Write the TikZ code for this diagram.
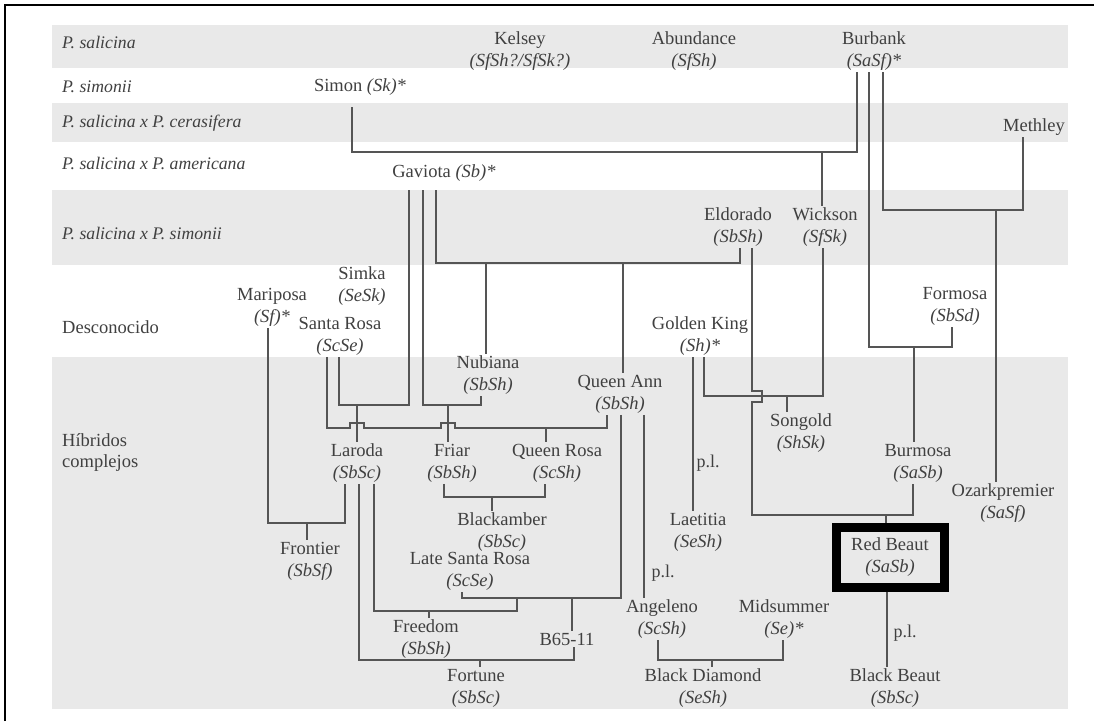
\documentclass[tikz,border=0pt]{standalone}
\usepackage{fontspec}
\setmainfont{Liberation Serif}
\definecolor{txt}{HTML}{404040}
\definecolor{lnc}{HTML}{555555}
\definecolor{band}{HTML}{E9E9E9}
\newcommand{\gen}[1]{{\itshape #1}}
\begin{document}
\begin{tikzpicture}[x=1pt,y=-1pt,
 nd/.style={align=center,inner sep=1.5pt,text=txt,font=\fontsize{18.5}{22}\selectfont},
 lab/.style={anchor=west,inner sep=0pt,text=txt,font=\fontsize{17.7}{21}\selectfont\itshape},
 labu/.style={anchor=west,inner sep=0pt,text=txt,font=\fontsize{18.5}{21}\selectfont,align=left},
 pl/.style={inner sep=0pt,text=txt,font=\fontsize{18}{20}\selectfont},
 ln/.style={draw=lnc,line width=1.6pt}]
\useasboundingbox (0,0) rectangle (1094,721);
% bands
\fill[band] (52,25) rectangle (1068,68);
\fill[band] (52,103) rectangle (1068,142);
\fill[band] (52,190) rectangle (1068,265);
\fill[band] (52,357) rectangle (1068,709);
% frame
\draw[line width=2pt] (5,721) -- (5,5) -- (1094,5);
% row labels
\node[lab] (r1) at (62,42) {P. salicina};
\node[lab] (r2) at (62,87) {P. simonii};
\node[lab] (r3) at (62,123) {P. salicina x P. cerasifera};
\node[lab] (r4) at (62,163) {P. salicina x P. americana};
\node[lab] (r5) at (62,233) {P. salicina x P. simonii};
\node[labu] (r6) at (62,327) {Desconocido};
\node[labu] (r7) at (62,453) {Híbridos\\complejos};
% cultivars
\node[nd] (kelsey) at (520,51) {Kelsey\\\gen{(SfSh?/SfSk?)}};
\node[nd] (abundance) at (694,51) {Abundance\\\gen{(SfSh)}};
\node[nd] (burbank) at (874,51) {Burbank\\\gen{(SaSf)*}};
\node[nd] (simon) at (360,87) {Simon \gen{(Sk)*}};
\node[nd] (methley) at (1034,127) {Methley};
\node[nd] (gaviota) at (444,173) {Gaviota \gen{(Sb)*}};
\node[nd] (eldorado) at (738,227) {Eldorado\\\gen{(SbSh)}};
\node[nd] (wickson) at (825,227) {Wickson\\\gen{(SfSk)}};
\node[nd] (simka) at (362,286) {Simka\\\gen{(SeSk)}};
\node[nd] (mariposa) at (272,307) {Mariposa\\\gen{(Sf)*}};
\node[nd] (santarosa) at (340,336) {Santa Rosa\\\gen{(ScSe)}};
\node[nd] (goldenking) at (700,336) {Golden King\\\gen{(Sh)*}};
\node[nd] (formosa) at (955,306) {Formosa\\\gen{(SbSd)}};
\node[nd] (nubiana) at (488,375) {Nubiana\\\gen{(SbSh)}};
\node[nd] (queenann) at (620,394) {Queen Ann\\\gen{(SbSh)}};
\node[nd] (songold) at (801,433) {Songold\\\gen{(ShSk)}};
\node[nd] (laroda) at (357,463) {Laroda\\\gen{(SbSc)}};
\node[nd] (friar) at (452,463) {Friar\\\gen{(SbSh)}};
\node[nd] (queenrosa) at (557,463) {Queen Rosa\\\gen{(ScSh)}};
\node[nd] (burmosa) at (918,463) {Burmosa\\\gen{(SaSb)}};
\node[nd] (ozark) at (1003,503) {Ozarkpremier\\\gen{(SaSf)}};
\node[nd] (laetitia) at (698,532) {Laetitia\\\gen{(SeSh)}};
\node[nd] (blackamber) at (502,532) {Blackamber\\\gen{(SbSc)}};
\node[nd] (frontier) at (310,561) {Frontier\\\gen{(SbSf)}};
\node[nd] (latesr) at (470,571) {Late Santa Rosa\\\gen{(ScSe)}};
\node[nd,draw=black,line width=9pt,minimum width=108pt,minimum height=60pt] (redbeaut) at (890,557) {Red Beaut\\\gen{(SaSb)}};
\node[nd] (angeleno) at (662,619) {Angeleno\\\gen{(ScSh)}};
\node[nd] (midsummer) at (784,619) {Midsummer\\\gen{(Se)*}};
\node[nd] (freedom) at (426,639) {Freedom\\\gen{(SbSh)}};
\node[nd] (b65) at (567,639) {B65-11};
\node[nd] (fortune) at (476,688) {Fortune\\\gen{(SbSc)}};
\node[nd] (blackdiamond) at (703,688) {Black Diamond\\\gen{(SeSh)}};
\node[nd] (blackbeaut) at (895,688) {Black Beaut\\\gen{(SbSc)}};
\node[pl] (pl1) at (708,463) {p.l.};
\node[pl] (pl2) at (663,573) {p.l.};
\node[pl] (pl3) at (905,633) {p.l.};
% connectors
\draw[ln] ([yshift=-10pt]352,0 |- simon.south) -- (352,152) -- (857,152) -- (857,0 |- burbank.south);
\draw[ln] (822,152) -- (822,0 |- wickson.north);
\draw[ln] (869,0 |- burbank.south) -- (869,347) -- (952,347) -- (952,0 |- formosa.south);
\draw[ln] (914,347) -- (914,0 |- burmosa.north);
\draw[ln] (883,0 |- burbank.south) -- (883,210) -- (1023,210) -- (1023,0 |- methley.south);
\draw[ln] (996,210) -- (996,0 |- ozark.north);
\draw[ln] ([yshift=-7pt]409,0 |- gaviota.south) -- (409,405) -- (339,405) -- (339,0 |- santarosa.south);
\draw[ln] (357,405) -- (357,0 |- laroda.north);
\draw[ln] ([yshift=-7pt]423,0 |- gaviota.south) -- (423,405) -- (481,405) -- (481,0 |- nubiana.south);
\draw[ln] (448,405) -- (448,0 |- friar.north);
\draw[ln] ([yshift=-7pt]436,0 |- gaviota.south) -- (436,263) -- (740,263) -- (740,0 |- eldorado.south);
\draw[ln] (486,263) -- (486,0 |- nubiana.north);
\draw[ln] (623,263) -- (623,0 |- queenann.north);
\draw[ln] (327,0 |- santarosa.south) -- (327,428) -- (350,428) -- (350,423) -- (364,423) -- (364,428)
  -- (441,428) -- (441,423) -- (455,423) -- (455,428) -- (607,428) -- (607,0 |- queenann.south);
\draw[ln] (546,428) -- (546,0 |- queenrosa.north);
\draw[ln] (823,0 |- wickson.south) -- (823,396) -- (704,396) -- (704,0 |- goldenking.south);
\draw[ln] (787,396) -- (787,0 |- songold.north);
\draw[ln] (752,0 |- eldorado.south) -- (752,391) -- (762,391) -- (762,402) -- (752,402) -- (752,515) -- (913,515) -- (913,0 |- burmosa.south);
\draw[ln] (886,515) -- (886,0 |- redbeaut.north);
\draw[ln] (693,0 |- goldenking.south) -- (693,0 |- laetitia.north);
\draw[ln] (644,0 |- queenann.south) -- (644,0 |- angeleno.north);
\draw[ln] (621,0 |- queenann.south) -- (621,598) -- (462,598) -- (462,0 |- latesr.south);
\draw[ln] (572,598) -- (572,0 |- b65.north);
\draw[ln] (517,598) -- (517,611) -- (374,611) -- (374,0 |- laroda.south);
\draw[ln] (429,611) -- (429,0 |- freedom.north);
\draw[ln] (345,0 |- laroda.south) -- (345,523) -- (268,523) -- (268,0 |- mariposa.south);
\draw[ln] (307,523) -- (307,0 |- frontier.north);
\draw[ln] (359,0 |- laroda.south) -- (359,660) -- (574,660) -- (574,0 |- b65.south);
\draw[ln] (480,660) -- (480,0 |- fortune.north);
\draw[ln] (444,0 |- friar.south) -- (444,497) -- (545,497) -- (545,0 |- queenrosa.south);
\draw[ln] (492,497) -- (492,0 |- blackamber.north);
\draw[ln] (658,0 |- angeleno.south) -- (658,660) -- (783,660) -- (783,0 |- midsummer.south);
\draw[ln] (712,660) -- (712,0 |- blackdiamond.north);
\draw[ln] (887,0 |- redbeaut.south) -- (887,0 |- blackbeaut.north);
\end{tikzpicture}
\end{document}
